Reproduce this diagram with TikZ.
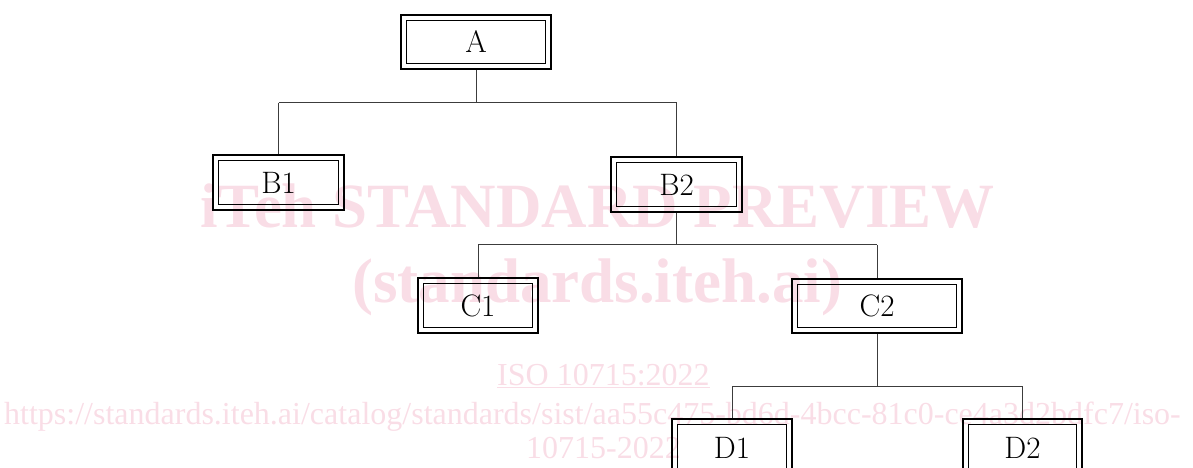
\documentclass[tikz,border=0pt]{standalone}
\usepackage{fontspec}
\newfontfamily\wmfont{Liberation Serif}
\definecolor{wmpink}{RGB}{249,221,230}
\definecolor{linegray}{RGB}{60,60,60}
\tikzset{
  dbox/.style={draw=black, line width=1.6pt, inner sep=0pt, font=\fontsize{31}{33}\selectfont},
  innerframe/.style={draw=black, line width=0.9pt},
  conn/.style={draw=linegray, line width=0.8pt},
  wmbig/.style={text=wmpink, anchor=base west, inner sep=0pt, font=\wmfont\bfseries\fontsize{63}{66}\selectfont},
  wmsmall/.style={text=wmpink, anchor=base west, inner sep=0pt, font=\wmfont\fontsize{32}{34}\selectfont}
}
\begin{document}
\begin{tikzpicture}[x=1pt,y=-1pt]
\useasboundingbox (0,0) rectangle (1193,468);
\clip (0,0) rectangle (1193,468);
% watermark
\node[wmbig] (w1) at (200,227) {iTeh STANDARD PREVIEW};
\node[wmbig] (w2) at (352,302) {(standards.iteh.ai)};
\node[wmsmall] (w3) at (497,385) {\underline{ISO 10715:2022}};
\node[wmsmall] (w4) at (4,424) {https://standards.iteh.ai/catalog/standards/sist/aa55c475-bd6d-4bcc-81c0-ce4a3d2bdfc7/iso-};
\node[wmsmall] (w5) at (526,458) {10715-2022};
% boxes
\node[dbox, minimum width=150pt, minimum height=54pt] (A) at (476,42) {A};
\node[dbox, minimum width=131pt, minimum height=55pt] (B1) at (278.5,182.5) {B1};
\node[dbox, minimum width=131pt, minimum height=55pt] (B2) at (676.5,184.5) {B2};
\node[dbox, minimum width=120pt, minimum height=55pt] (C1) at (478,305.5) {C1};
\node[dbox, minimum width=170pt, minimum height=54pt] (C2) at (877,306) {C2};
\node[dbox, minimum width=120pt, minimum height=58pt] (D1) at (732,448) {D1};
\node[dbox, minimum width=119pt, minimum height=58pt] (D2) at (1022.5,448) {D2};
\foreach \n in {A,B1,B2,C1,C2,D1,D2}{
  \draw[innerframe] ([shift={(6,6)}]\n.north west) rectangle ([shift={(-6,-6)}]\n.south east);
}
% connectors
\draw[conn] (A.south) -- ++(0,33) coordinate (ja);
\draw[conn] (ja -| B1.north) -- (ja -| B2.north);
\draw[conn] (ja -| B1.north) -- (B1.north);
\draw[conn] (ja -| B2.north) -- (B2.north);
\draw[conn] (B2.south) -- ++(0,32) coordinate (jb);
\draw[conn] (jb -| C1.north) -- (jb -| C2.north);
\draw[conn] (jb -| C1.north) -- (C1.north);
\draw[conn] (jb -| C2.north) -- (C2.north);
\draw[conn] (C2.south) -- ++(0,53) coordinate (jc);
\draw[conn] (jc -| D1.north) -- (jc -| D2.north);
\draw[conn] (jc -| D1.north) -- (D1.north);
\draw[conn] (jc -| D2.north) -- (D2.north);
\end{tikzpicture}
\end{document}
